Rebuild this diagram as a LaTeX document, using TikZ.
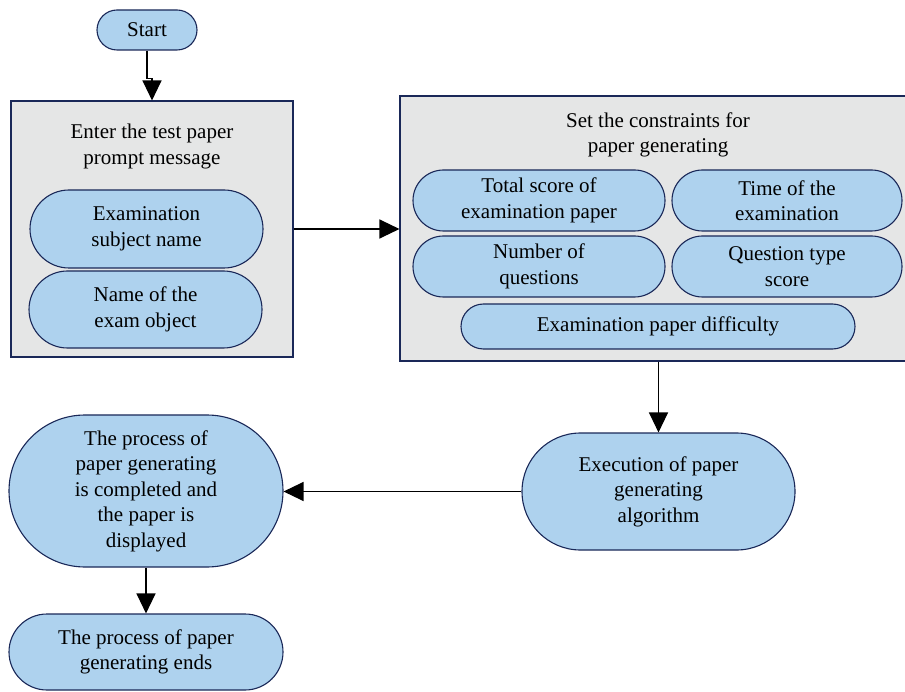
\documentclass[tikz,border=0pt]{standalone}
\usepackage{fontspec}
\setmainfont{Liberation Serif}
\usetikzlibrary{shapes.misc,arrows.meta}
\definecolor{pillblue}{HTML}{AED2EE}
\definecolor{pillline}{HTML}{1A2858}
\definecolor{panelgray}{HTML}{E5E6E6}
\tikzset{
  txt/.style={font=\fontsize{21}{25.5}\selectfont, align=center},
  pill/.style={rounded rectangle, draw=pillline, line width=1.1pt, fill=pillblue,
    inner sep=0pt, txt},
  panel/.style={rectangle, draw=pillline, line width=1.1pt, fill=panelgray, inner sep=0pt},
  paneltitle/.style={inner sep=0pt, txt},
  flow/.style={draw=black, line width=1.2pt, -{Triangle[length=20pt,width=19pt]}}
}
\begin{document}
\begin{tikzpicture}[x=1pt,y=-1pt]
  \useasboundingbox (0,0) rectangle (905,692);

  % start
  \node[pill, minimum width=100pt, minimum height=40pt] (start) at (147,30) {Start};

  % left panel: prompt message
  \node[panel, minimum width=282pt, minimum height=256pt] (box1) at (152,229) {};
  \node[paneltitle] (t1) at (152,146.5) {Enter the test paper\\prompt message};
  \node[pill, minimum width=233pt, minimum height=78pt] (subj) at (146.5,229) {Examination\\subject name};
  \node[pill, minimum width=233pt, minimum height=77pt] (obj) at (145.5,309.5) {Name of the\\exam object};

  % right panel: constraints
  \node[panel, minimum width=506pt, minimum height=265pt] (box2) at (653,228.5) {};
  \node[paneltitle] (t2) at (658,135) {Set the constraints for\\paper generating};
  \node[pill, minimum width=252pt, minimum height=61pt] (total) at (539,200.5) {Total score of\\examination paper};
  \node[pill, minimum width=230pt, minimum height=61pt] (time) at (787,200.5) {Time of the\\examination};
  \node[pill, minimum width=252pt, minimum height=61pt] (num) at (539,266.5) {Number of\\questions};
  \node[pill, minimum width=230pt, minimum height=61pt] (qtype) at (787,266.5) {Question type\\score};
  \node[pill, minimum width=394pt, minimum height=45pt] (diff) at (658,326.5) {Examination paper difficulty};

  % execution and results
  \node[pill, minimum width=273pt, minimum height=117pt] (exec) at (658.5,491.5) {Execution of paper\\generating\\algorithm};
  \node[pill, minimum width=274pt, minimum height=152pt] (done) at (146,491) {The process of\\paper generating\\is completed and\\the paper is\\displayed};
  \node[pill, minimum width=274pt, minimum height=76pt] (end) at (146,652) {The process of paper\\generating ends};

  % connectors
  \draw[flow] (start.south) -- ++(0,28) -| (box1.north);
  \draw[flow] (box1.east) -- (box1.east -| box2.west);
  \draw[flow] (box2.south -| exec.north) -- (exec.north);
  \draw[flow] (exec.west) -- (exec.west -| done.east);
  \draw[flow] (done.south) -- (end.north);
\end{tikzpicture}
\end{document}
